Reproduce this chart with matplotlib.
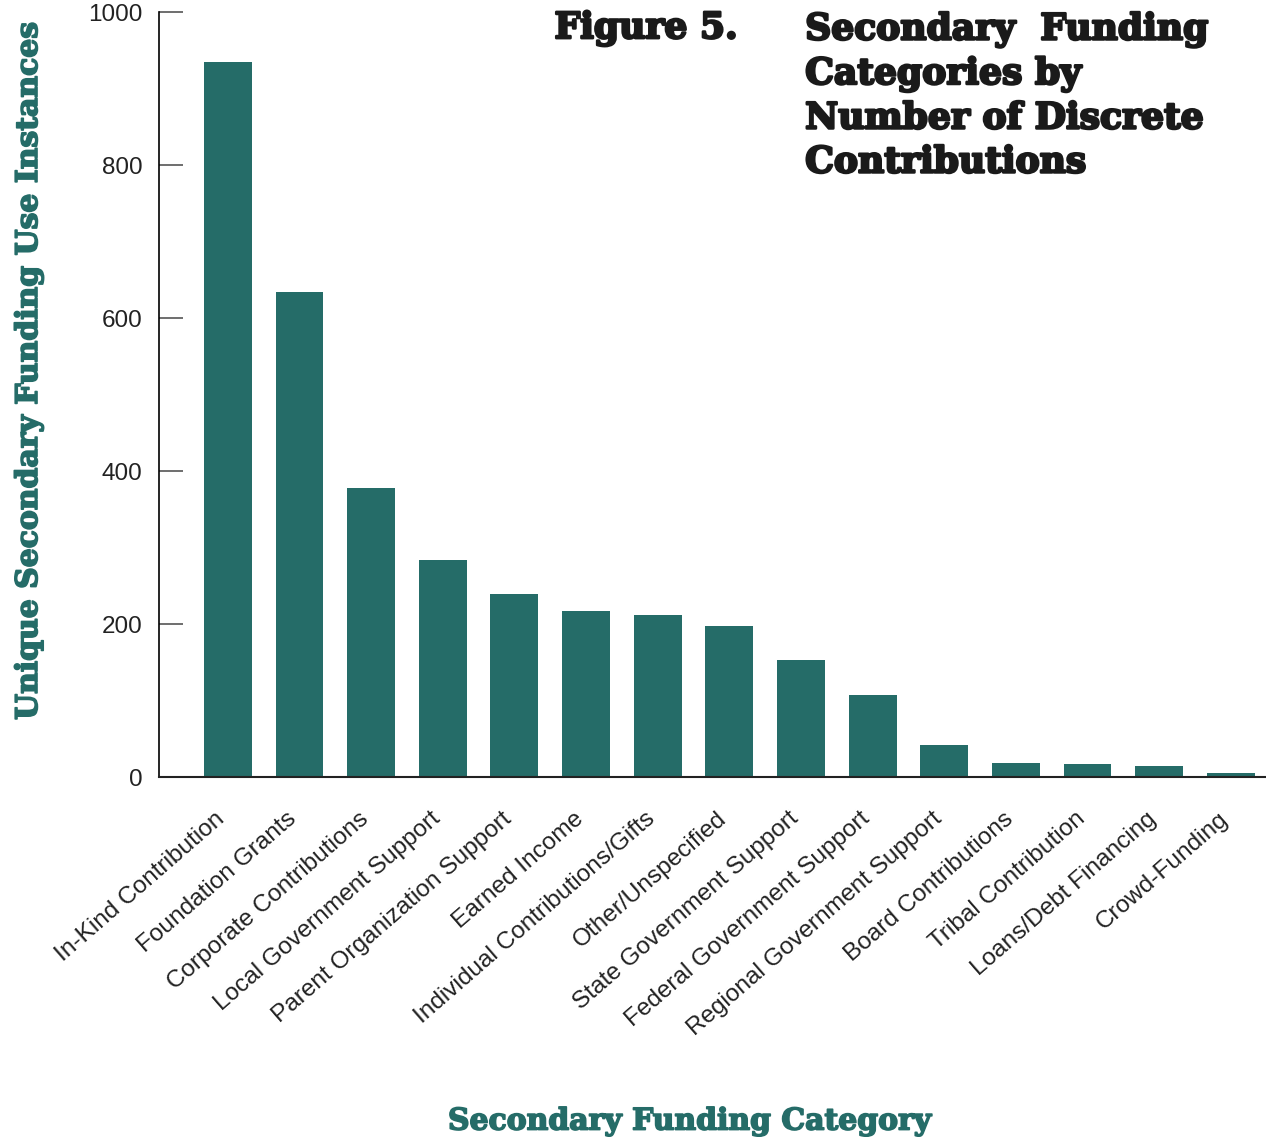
import matplotlib.pyplot as plt
import matplotlib.patheffects as pe
from matplotlib.transforms import ScaledTranslation

categories = [
    "In-Kind Contribution", "Foundation Grants", "Corporate Contributions",
    "Local Government Support", "Parent Organization Support", "Earned Income",
    "Individual Contributions/Gifts", "Other/Unspecified", "State Government Support",
    "Federal Government Support", "Regional Government Support", "Board Contributions",
    "Tribal Contribution", "Loans/Debt Financing", "Crowd-Funding",
]
counts = [935, 634, 378, 284, 239, 217, 212, 197, 153, 107, 42, 18, 17, 14, 5]
yticks = [0, 200, 400, 600, 800, 1000]

TEAL = "#256c68"
INK = "#1a1a1a"
SANS = ["Liberation Sans", "DejaVu Sans"]
SLAB = ["DejaVu Serif"]


def heavy(color, w):
    # thicken the slab serif a little so it reads as a black weight
    return [pe.withStroke(linewidth=w, foreground=color)]


fig = plt.figure(figsize=(12.66, 11.37), dpi=100)
ax = fig.add_axes([0.1256, 0.3166, 0.8744, 0.6728])

x = list(range(len(categories)))
ax.bar(x, counts, width=0.667, color=TEAL, zorder=2)

ax.set_xlim(-0.96, len(categories) - 0.51)
ax.set_ylim(0, 1000)
ax.set_yticks(yticks)
ax.set_yticklabels([str(t) for t in yticks], family=SANS, fontsize=17.5, color="#222222")
ax.tick_params(axis="y", direction="in", length=17.5, width=1.2, color="#555555", pad=12)
ax.tick_params(axis="x", length=0, pad=22)
ax.set_xticks(x)
ax.set_xticklabels(categories, rotation=41, ha="right", rotation_mode="anchor",
                   family=SANS, fontsize=17.6, color="#222222")
nudge = ScaledTranslation(-0.13, 0, fig.dpi_scale_trans)
for lbl in ax.get_xticklabels():
    lbl.set_transform(lbl.get_transform() + nudge)

for side in ["top", "right"]:
    ax.spines[side].set_visible(False)
ax.spines["left"].set_linewidth(1.2)
ax.spines["bottom"].set_linewidth(1.5)
ax.spines["bottom"].set_color("#222222")

ax.set_ylabel("Unique Secondary Funding Use Instances", family=SLAB, fontweight="bold",
              fontsize=21.5, color=TEAL, path_effects=heavy(TEAL, 1.2))
ax.yaxis.set_label_coords(-0.1048, 0.531)
fig.text(0.545, 0.014, "Secondary Funding Category", family=SLAB, fontweight="bold",
         fontsize=21.5, color=TEAL, ha="center", va="center",
         path_effects=heavy(TEAL, 1.2))

# figure title block, top right
fig.text(0.438, 0.975, "Figure 5.", family=SLAB, fontweight="heavy", fontsize=26,
         color=INK, ha="left", va="center", path_effects=heavy(INK, 1.8))
fig.text(0.636, 0.989, "Secondary  Funding\nCategories by\nNumber of Discrete\nContributions",
         family=SLAB, fontweight="heavy", fontsize=26, color=INK,
         ha="left", va="top", linespacing=1.37, path_effects=heavy(INK, 1.8))

fig.savefig("out.png", dpi=100)
